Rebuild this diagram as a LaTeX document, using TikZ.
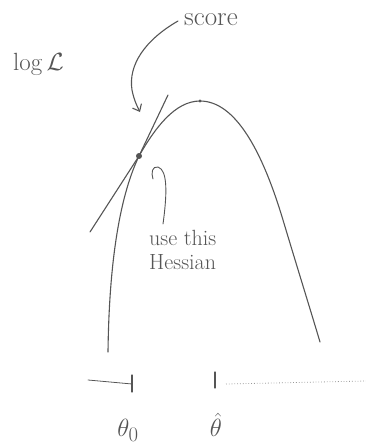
\documentclass[tikz,border=0pt]{standalone}
\usetikzlibrary{arrows.meta}
\definecolor{pencil}{HTML}{555555}
\begin{document}
\begin{tikzpicture}[x=1pt,y=-1pt,
  sketch/.style={draw=pencil,line width=1.1pt,line cap=round,line join=round},
  faint/.style={draw=pencil!60,line width=0.8pt,dotted},
  hand/.style={text=pencil,inner sep=0pt,font=\fontsize{22}{22}\selectfont}]
\useasboundingbox (0,0) rectangle (366,448);
% coordinates
\coordinate (tp) at (139,156);
\coordinate (peak) at (200,101);
\coordinate (tA) at (168,95);
\coordinate (tB) at (90,232);
% log-likelihood curve
\draw[sketch] (108,352) .. controls (109,270) and (118,200) .. (tp)
  .. controls (155,128) and (175,101) .. (peak)
  .. controls (235,101) and (262,150) .. (283,220)
  .. controls (298,270) and (312,315) .. (320,342);
% tangent (score) line
\draw[sketch] (tA) -- (tp) -- (tB);
\fill[pencil] (tp) circle (3pt);
\fill[pencil] (peak) circle (1.6pt);
% labels
\node[hand,anchor=west,font=\fontsize{27}{27}\selectfont] (score) at (184,20) {score};
\node[hand,anchor=west,font=\fontsize{27}{27}\selectfont] (logL) at (13,64) {$\log\mathcal{L}$};
\node[hand,align=left,anchor=north west] (hess) at (149,230) {use this\\[2pt]Hessian};
% score arrow
\coordinate (sarrowtip) at (140,112);
\draw[sketch,-{Straight Barb[length=6pt,width=10pt]}] (score.west) ++(-6,1) .. controls (145,40) and (128,65) .. (132,90) .. controls (134,100) and (137,106) .. (sarrowtip);
% hook arrow towards tangency point
\coordinate (hookend) at (153,179);
\draw[sketch,line width=0.9pt] (163,224) .. controls (167,195) and (168,170) .. (158,167) .. controls (152,166) and (151,173) .. (hookend);
% axis
\coordinate (axL) at (88,380);
\coordinate (tk0) at (132,384);
\coordinate (tk1) at (215,382);
\coordinate (axR) at (366,381);
\draw[sketch,line width=0.8pt] (axL) -- (tk0);
\draw[sketch] (132,375) -- (132,392);
\draw[sketch] (215,372) -- (215,388);
\draw[faint] (226,384) -- (axR);
\node[hand,font=\fontsize{28}{28}\selectfont] (th0) at (128,430) {$\theta_0$};
\node[hand,font=\fontsize{28}{28}\selectfont] (thhat) at (216,425) {$\hat\theta$};
\end{tikzpicture}
\end{document}
